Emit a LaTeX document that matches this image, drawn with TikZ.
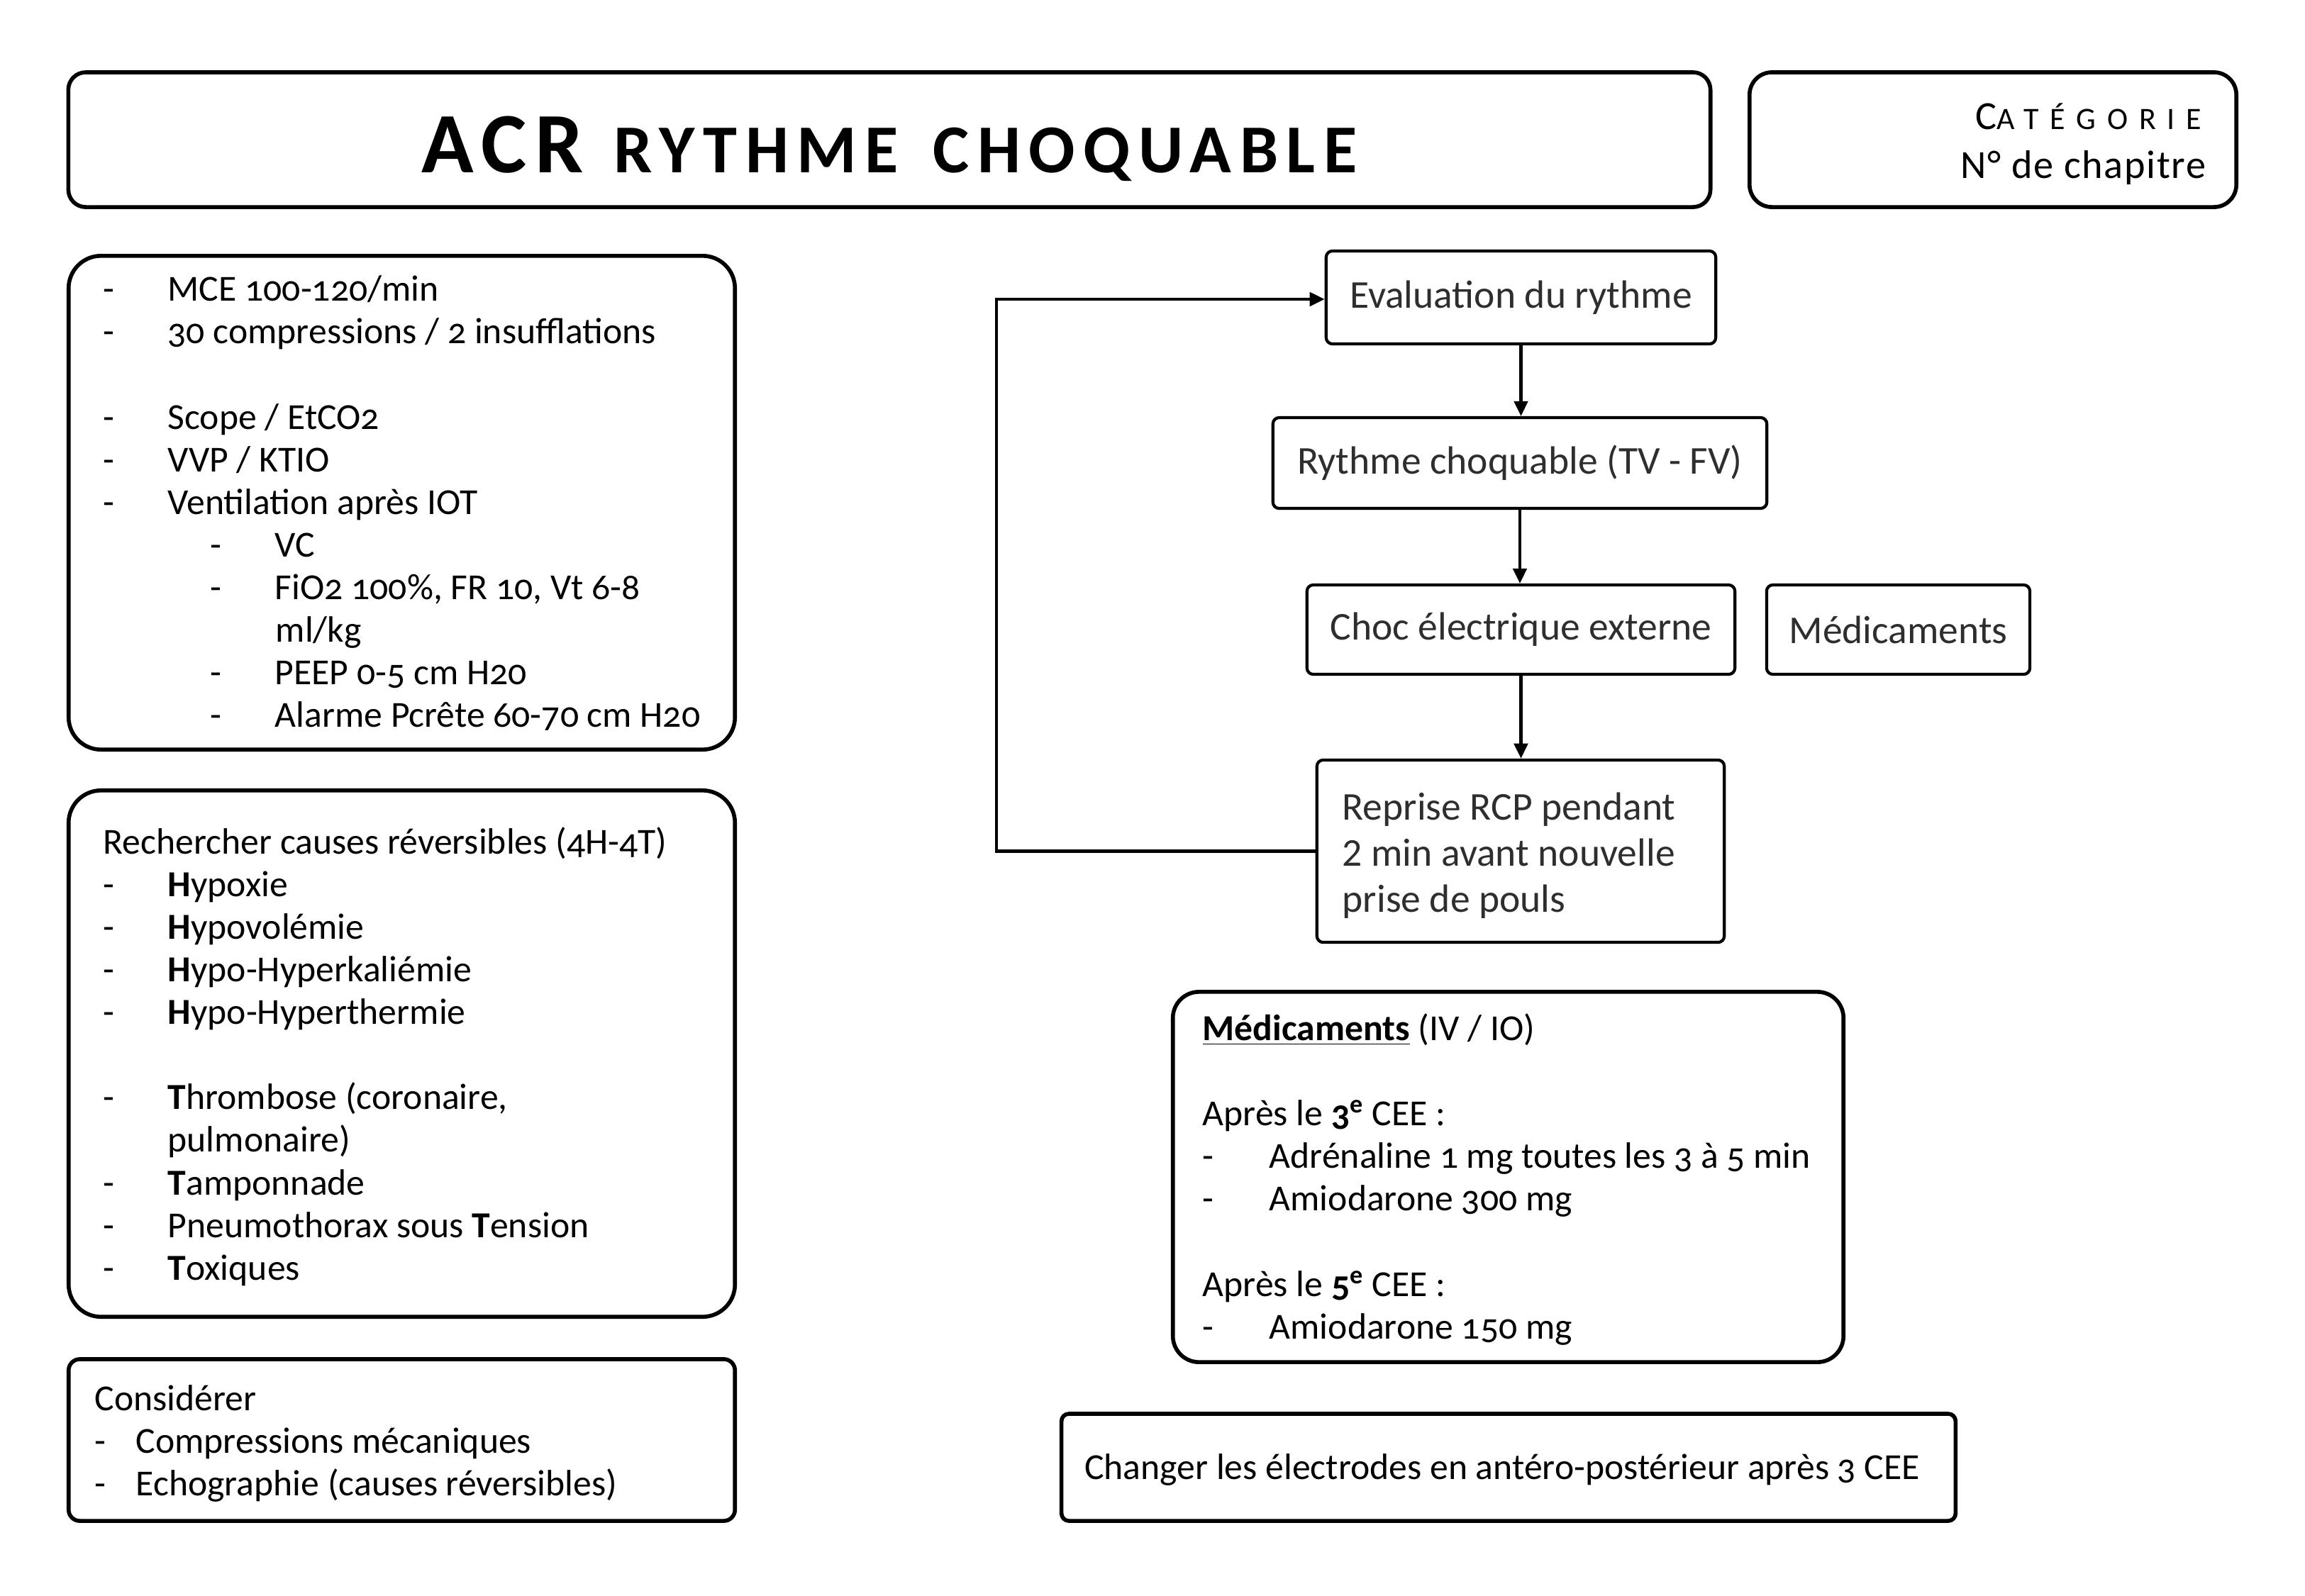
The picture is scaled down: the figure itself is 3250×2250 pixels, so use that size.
\documentclass[tikz,border=0pt]{standalone}
\usepackage{fontspec}
\setmainfont{Carlito}[Numbers=OldStyle]
\usetikzlibrary{arrows.meta}
\newcommand\bodyfont{\fontsize{14.7pt}{17pt}\selectfont}
\newcommand\flowfont{\fontsize{15.8pt}{18.5pt}\selectfont\addfontfeatures{Numbers=Lining}}
\newcommand\li[4]{\node[txt] (#1) at (#2,#3) {#4};}
\newcommand\dl[5][0.91cm]{\node[txt] (#2) at (#3,#4) {\makebox[#1][l]{-}#5};}
\begin{document}
\begin{tikzpicture}[x=0.01cm,y=-0.01cm,
 bigbox/.style={draw, line width=1.6pt, inner sep=0pt},
 flowbox/.style={draw, line width=1.2pt, rounded corners=2.5pt, inner sep=0pt, font=\flowfont, text=black!82},
 txt/.style={anchor=mid west, inner sep=0pt, font=\bodyfont, yshift=-0.08cm},
 arr/.style={line width=1.2pt, -{Triangle[length=6pt,width=5.5pt]}}]
\useasboundingbox[fill=white] (0,0) rectangle (3250,2250);

% header
\node[bigbox, rounded corners=7pt, minimum width=23.14cm, minimum height=1.90cm] (title) at (1254,197) {};
\node[anchor=base, inner sep=0pt] (titletext) at (1254,243) {\bfseries\mbox{\fontsize{34.5pt}{35pt}\selectfont\addfontfeatures{LetterSpace=10}ACR}\hspace*{12pt}\mbox{\fontsize{27.5pt}{28pt}\selectfont\addfontfeatures{LetterSpace=12}RYTHME\hspace*{0.5em}CHOQUABLE}};
\node[bigbox, rounded corners=9pt, minimum width=6.86cm, minimum height=1.90cm] (catbox) at (2810,197) {};
\node[anchor=base east, inner sep=0pt] (cat) at (3105,182) {\mbox{\fontsize{16pt}{16pt}\selectfont\addfontfeatures{LetterSpace=36}C}\mbox{\fontsize{12.5pt}{13pt}\selectfont\addfontfeatures{LetterSpace=36}ATÉGORIE}};
\node[anchor=base east, inner sep=0pt] (chap) at (3111,251) {\fontsize{16pt}{16pt}\selectfont\addfontfeatures{LetterSpace=3}N° de chapitre};

% left boxes
\node[bigbox, rounded corners=13pt, minimum width=9.39cm, minimum height=6.96cm] (box1) at (566.5,709) {};
\dl{a1}{145}{408}{MCE 100-120/min}
\dl{a2}{145}{468}{30 compressions / 2 insufflations}
\dl{a3}{145}{589}{Scope / EtCO2}
\dl{a4}{145}{649}{VVP / KTIO}
\dl{a5}{145}{709}{Ventilation après IOT}
\dl{a6}{296}{769}{VC}
\dl{a7}{296}{829}{FiO2 100\%, FR 10, Vt 6-8}
\li{a8}{388}{889}{ml/kg}
\dl{a9}{296}{949}{PEEP 0-5 cm H20}
\dl{a10}{296}{1009}{Alarme Pcrête 60-70 cm H20}

\node[bigbox, rounded corners=13pt, minimum width=9.39cm, minimum height=7.42cm] (box2) at (566.5,1486) {};
\li{b0}{145}{1188}{Rechercher causes réversibles (4H-4T)}
\dl{b1}{145}{1248}{\textbf{H}ypoxie}
\dl{b2}{145}{1308}{\textbf{H}ypovolémie}
\dl{b3}{145}{1368}{\textbf{H}ypo-Hyperkaliémie}
\dl{b4}{145}{1428}{\textbf{H}ypo-Hyperthermie}
\dl{b5}{145}{1548}{\textbf{T}hrombose (coronaire,}
\li{b6}{236}{1608}{pulmonaire)}
\dl{b7}{145}{1669}{\textbf{T}amponnade}
\dl{b8}{145}{1729}{Pneumothorax sous \textbf{T}ension}
\dl{b9}{145}{1789}{\textbf{T}oxiques}

\node[bigbox, rounded corners=4.5pt, minimum width=9.39cm, minimum height=2.28cm] (box3) at (566.5,2031) {};
\li{c0}{133}{1973}{Considérer}
\dl[0.58cm]{c1}{133}{2033}{Compressions mécaniques}
\dl[0.58cm]{c2}{133}{2093}{Echographie (causes réversibles)}

% flow
\node[flowbox, minimum width=5.49cm, minimum height=1.31cm] (ev) at (2144.5,419.5) {\raisebox{-0.04cm}{Evaluation du rythme}};
\node[flowbox, minimum width=6.96cm, minimum height=1.28cm] (rc) at (2143,653) {\raisebox{-0.04cm}{Rythme choquable (TV - FV)}};
\node[flowbox, minimum width=6.03cm, minimum height=1.26cm] (ce) at (2144.5,888) {\raisebox{-0.04cm}{Choc électrique externe}};
\node[flowbox, minimum width=3.71cm, minimum height=1.26cm] (md) at (2676.5,888) {\raisebox{-0.04cm}{Médicaments}};
\node[flowbox, minimum width=5.74cm, minimum height=2.57cm] (rp) at (2144,1200.5) {};
\node[anchor=west, inner sep=0pt, align=left, font=\flowfont, text=black!82] (rptext) at (1892,1207) {Reprise RCP pendant\\2 min avant nouvelle\\prise de pouls};
\draw[arr] (ev.south) -- (ev.south |- rc.north);
\draw[arr] (rc.south) -- (rc.south |- ce.north);
\draw[arr] (ce.south) -- (ce.south |- rp.north);
\coordinate (lx) at (1405,422);
\draw[arr] (rp.west) -| (lx) -- (lx -| ev.west);

% medications
\node[bigbox, rounded corners=10.5pt, minimum width=9.45cm, minimum height=5.22cm] (medbox) at (2126.5,1660) {};
\li{m0}{1695}{1451}{\underline{\textbf{Médicaments}} (IV / IO)}
\li{m1}{1695}{1571}{Après le \textbf{3\textsuperscript{e}} CEE :}
\dl[0.94cm]{m2}{1695}{1631}{Adrénaline 1 mg toutes les 3 à 5 min}
\dl[0.94cm]{m3}{1695}{1691}{Amiodarone 300 mg}
\li{m4}{1695}{1812}{Après le \textbf{5\textsuperscript{e}} CEE :}
\dl[0.94cm]{m5}{1695}{1872}{Amiodarone 150 mg}

\node[bigbox, rounded corners=3pt, minimum width=12.60cm, minimum height=1.51cm] (chg) at (2127,2069.5) {};
\node[txt, anchor=mid] (chgtext) at (2118,2070) {Changer les électrodes en antéro-postérieur après 3 CEE};
\end{tikzpicture}
\end{document}
